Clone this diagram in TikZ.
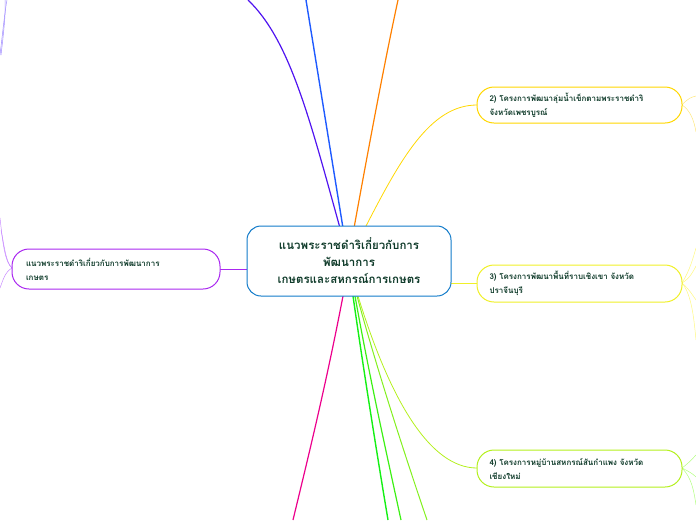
\documentclass[tikz,border=0pt]{standalone}
\usepackage{fontspec}
\newfontfamily\thai[Script=Thai]{Loma}
\definecolor{txt}{HTML}{0F3B2A}
\begin{document}
\begin{tikzpicture}[x=1pt,y=-1pt,
  box/.style={draw,rounded corners=17pt,line width=1pt,inner sep=0pt,align=left,font=\thai\bfseries\fontsize{8}{14}\selectfont,text=txt},
  cbox/.style={draw=cyan!60!blue,rounded corners=14pt,line width=1pt,fill=white,minimum width=204pt,minimum height=70pt,align=center,font=\thai\bfseries\fontsize{11.5}{17}\selectfont,text=txt}]
\useasboundingbox (0,0) rectangle (696,520);
% connectors first
\coordinate (t1) at (248,0); \coordinate (t2) at (306,0); \coordinate (t3) at (398,0);
\coordinate (b1) at (293,520); \coordinate (b2) at (388,520); \coordinate (b3) at (401,520); \coordinate (b4) at (427,520);
\draw[color={rgb,255:red,80;green,20;blue,240},line width=1.2pt] (340,228) .. controls (310,120) and (290,40) .. (t1);
\draw[color={rgb,255:red,30;green,90;blue,255},line width=1.4pt] (343,228) -- (t2);
\draw[orange,line width=1.2pt] (354,228) .. controls (370,140) and (385,60) .. (t3);
\draw[color={rgb,255:red,255;green,215;blue,0},line width=0.8pt] (365,228) .. controls (400,160) and (430,105) .. (477,105);
\draw[color={rgb,255:red,240;green,240;blue,40},line width=0.8pt] (451,283) -- (477,283);
\draw[color={rgb,255:red,180;green,240;blue,30},line width=0.8pt] (358,296) .. controls (390,400) and (430,468) .. (477,468);
\draw[magenta,line width=1.2pt] (343,296) .. controls (325,390) and (305,470) .. (b1);
\draw[color={rgb,255:red,20;green,240;blue,20},line width=1.4pt] (353,296) .. controls (365,380) and (378,460) .. (b2);
\draw[color={rgb,255:red,60;green,240;blue,20},line width=1.2pt] (355,296) .. controls (370,380) and (388,460) .. (b3);
\draw[color={rgb,255:red,130;green,240;blue,30},line width=1pt] (357,296) .. controls (380,380) and (410,470) .. (b4);
\draw[color={rgb,255:red,170;green,40;blue,240},line width=0.8pt] (220,269) -- (247,269);
% left fringe
\begin{scope}[color={rgb,255:red,200;green,140;blue,255},line width=0.5pt]
\draw (12,268) .. controls (5,262) and (3,245) .. (0,218);
\draw (12,268) .. controls (6,262) and (5,250) .. (1,230);
\draw (12,268) .. controls (5,272) and (3,280) .. (0,288);
\draw[color={rgb,255:red,160;green,140;blue,255}] (0,55) .. controls (3,30) and (5,10) .. (7,0);
\draw[color={rgb,255:red,160;green,140;blue,255}] (1,55) .. controls (4,30) and (6,10) .. (5,0);
\end{scope}
% right fringe
\begin{scope}[line width=0.5pt]
\draw[yellow!70!orange!50] (682,105) .. controls (688,98) and (692,97) .. (696,96);
\draw[yellow!70!orange!50] (682,105) .. controls (690,110) and (694,120) .. (696,132);
\draw[yellow!50] (682,283) .. controls (690,270) and (693,258) .. (696,248);
\draw[yellow!50] (682,283) .. controls (690,278) and (693,272) .. (696,266);
\draw[yellow!50] (682,283) .. controls (690,290) and (693,296) .. (696,300);
\draw[yellow!50] (682,283) .. controls (692,295) and (694,320) .. (696,340);
\draw[green!60!yellow!50] (682,468) .. controls (690,462) and (693,458) .. (696,455);
\draw[green!60!yellow!50] (682,468) .. controls (690,472) and (693,474) .. (696,477);
\draw[green!60!yellow!50] (682,468) .. controls (692,478) and (694,492) .. (696,505);
\end{scope}
% nodes
\node[cbox] (c) at (349,261) {แนวพระราชดำริเกี่ยวกับการ\\พัฒนาการ\\เกษตรและสหกรณ์การเกษตร};
\node[box,draw={rgb,255:red,170;green,40;blue,240},fill=white,minimum width=208pt,minimum height=40pt,text width=180pt] (l) at (116,269) {แนวพระราชดำริเกี่ยวกับการพัฒนาการ\\เกษตร};
\node[box,draw={rgb,255:red,255;green,215;blue,0},fill=white,minimum width=205pt,minimum height=36pt,text width=180pt] (n2) at (579.5,105) {2) โครงการพัฒนาลุ่มน้ำเข็กตามพระราชดำริ\\จังหวัดเพชรบูรณ์};
\node[box,draw={rgb,255:red,240;green,240;blue,40},fill=white,minimum width=205pt,minimum height=37pt,text width=180pt] (n3) at (579.5,283.5) {3) โครงการพัฒนาพื้นที่ราบเชิงเขา จังหวัด\\ปราจีนบุรี};
\node[box,draw={rgb,255:red,180;green,240;blue,30},fill=white,minimum width=205pt,minimum height=37pt,text width=180pt] (n4) at (579.5,468.5) {4) โครงการหมู่บ้านสหกรณ์สันกำแพง จังหวัด\\เชียงใหม่};
\end{tikzpicture}
\end{document}
